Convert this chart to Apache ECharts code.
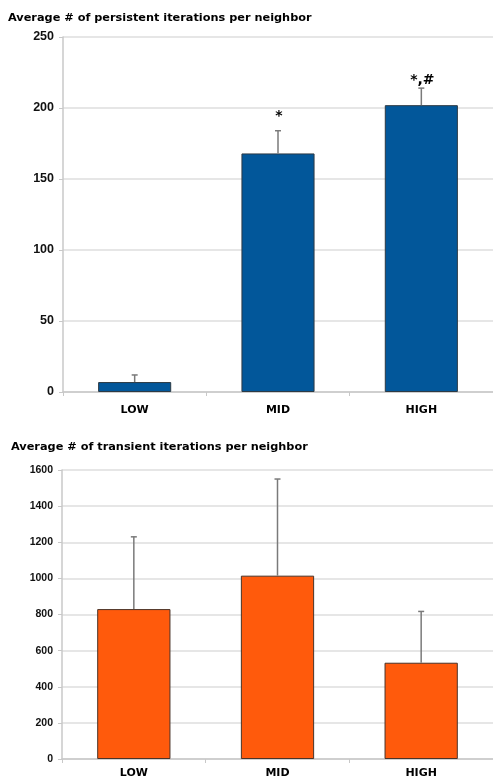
<!DOCTYPE html>
<html><head><meta charset="utf-8">
<script src="https://cdn.jsdelivr.net/npm/echarts@6/dist/echarts.min.js"></script>
<style>html,body{margin:0;padding:0;background:#fff}#c{width:493px;height:780px}</style>
</head><body><div id="c"></div>
<script>
const categories = ['LOW', 'MID', 'HIGH'];
const persistentMean = [7, 168, 202];
const persistentUpper = [12, 184, 214];
const persistentNotes = ['', '*', '*,#'];
const persistentTicks = [0, 50, 100, 150, 200, 250];
const transientMean = [830, 1015, 533];
const transientUpper = [1230, 1550, 817];
const transientTicks = [0, 200, 400, 600, 800, 1000, 1200, 1400, 1600];

const noteGap = [0, 7, 1];

const chart = echarts.init(document.getElementById('c'), null, {renderer: 'canvas'});

function errSeries(idx, mean, upper, notes) {
  return {
    type: 'custom', xAxisIndex: idx, yAxisIndex: idx, z: 5,
    data: categories.map((c, i) => [i, mean[i], upper[i]]),
    renderItem: function (params, api) {
      const i = api.value(0);
      const p0 = api.coord([i, api.value(1)]);
      const p1 = api.coord([i, api.value(2)]);
      const children = [
        {type: 'line', shape: {x1: p0[0], y1: p0[1], x2: p1[0], y2: p1[1]}, style: {stroke: '#7a7a7a', lineWidth: 1.5}},
        {type: 'line', shape: {x1: p1[0] - 3, y1: p1[1], x2: p1[0] + 3, y2: p1[1]}, style: {stroke: '#7a7a7a', lineWidth: 1.5}}
      ];
      if (notes && notes[i]) {
        children.push({type: 'text', style: {text: notes[i], x: p1[0] + 1, y: p1[1] - noteGap[i], textAlign: 'center', textVerticalAlign: 'bottom', font: 'bold 14px "DejaVu Sans"', fill: '#000'}});
      }
      return {type: 'group', children: children};
    }
  };
}

const catAxis = (idx, margin, size) => ({
  type: 'category', gridIndex: idx, data: categories,
  axisLine: {lineStyle: {color: '#c8c8c8', width: 1.5}},
  axisTick: {show: true, alignWithLabel: false, length: 4, lineStyle: {color: '#c8c8c8'}},
  axisLabel: {margin: margin, fontFamily: 'DejaVu Sans', fontWeight: 'bold', fontSize: size, color: '#000'}
});
const valAxis = (idx, ticks, size) => ({
  type: 'value', gridIndex: idx, min: ticks[0], max: ticks[ticks.length - 1], interval: ticks[1] - ticks[0],
  axisLine: {show: true, lineStyle: {color: '#c8c8c8', width: 1.5}},
  axisTick: {show: true, length: 4, lineStyle: {color: '#c8c8c8'}},
  splitLine: {lineStyle: {color: '#dedede', width: 1.5}},
  axisLabel: {margin: 9, fontFamily: 'Liberation Sans', fontWeight: 'bold', fontSize: size, color: '#111',
    formatter: v => String(v)}
});

chart.setOption({
  animation: false,
  title: [
    {text: 'Average # of persistent iterations per neighbor', left: 8, top: 13, padding: 0,
     textStyle: {fontFamily: 'DejaVu Sans', fontWeight: 'bold', fontSize: 11.3, color: '#000'}},
    {text: 'Average # of transient iterations per neighbor', left: 11, top: 442, padding: 0,
     textStyle: {fontFamily: 'DejaVu Sans', fontWeight: 'bold', fontSize: 11.3, color: '#000'}}
  ],
  grid: [
    {left: 63, top: 37, width: 433, height: 355},
    {left: 62, top: 470, width: 434, height: 289}
  ],
  xAxis: [catAxis(0, 13, 11), catAxis(1, 9, 11)],
  yAxis: [valAxis(0, persistentTicks, 12.5), valAxis(1, transientTicks, 10.5)],
  series: [
    {type: 'bar', xAxisIndex: 0, yAxisIndex: 0, data: persistentMean, barWidth: '51%',
     itemStyle: {color: '#02579a', borderColor: '#2d3a44', borderWidth: 1}},
    errSeries(0, persistentMean, persistentUpper, persistentNotes),
    {type: 'bar', xAxisIndex: 1, yAxisIndex: 1, data: transientMean, barWidth: '51%',
     itemStyle: {color: '#ff5a0c', borderColor: '#4a3328', borderWidth: 1}},
    errSeries(1, transientMean, transientUpper, null)
  ]
});
</script>
</body></html>
